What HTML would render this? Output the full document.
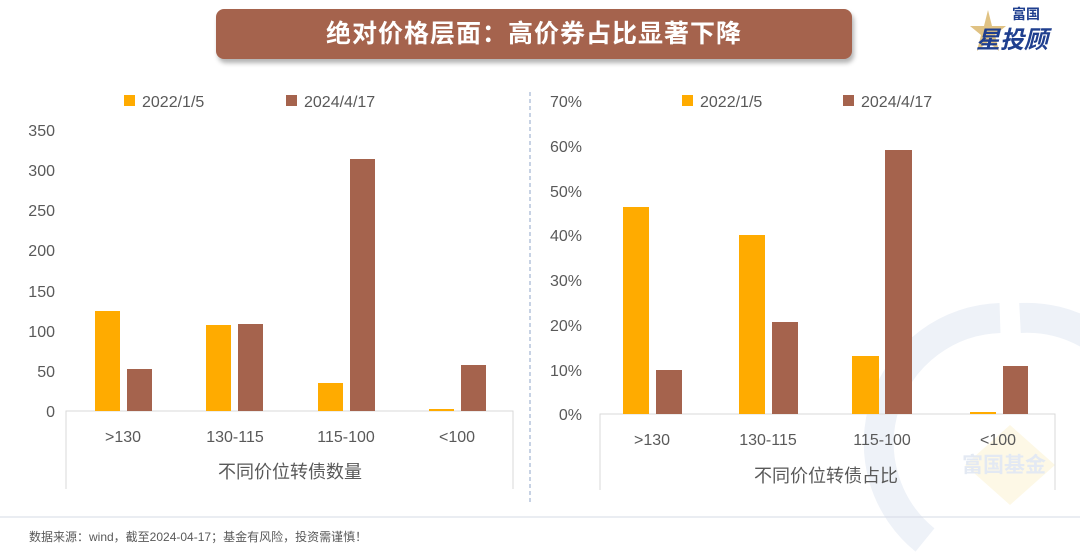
<!DOCTYPE html><html><head><meta charset="utf-8"><style>
body{margin:0;width:1080px;height:554px;background:#fff;overflow:hidden;position:relative;font-family:"Liberation Sans","Noto Sans CJK SC",sans-serif;}
.a{position:absolute}
</style></head><body>
<div class="a" style="left:216px;top:9px;width:636px;height:50px;background:#a5634d;border-radius:8px;box-shadow:2px 4px 5px rgba(0,0,0,.3);color:#fff;font-weight:bold;font-size:25px;line-height:50px;text-align:center;letter-spacing:1px">绝对价格层面：高价券占比显著下降</div>
<div class="a" style="left:966px;top:8px;width:110px;height:45px">
<svg width="110" height="45"><polygon points="22,2 26,18 40,18 29,27 33,43 22,34 11,43 15,27 4,18 18,18" fill="#e0c283"/></svg>
<div class="a" style="left:46px;top:-4px;font-size:14px;color:#1f3f8f;font-weight:bold">富国</div>
<div class="a" style="left:10px;top:12px;font-size:24px;color:#1f3f8f;font-weight:bold;font-style:italic">星投顾</div>
</div>
<svg class="a" style="left:0;top:0" width="1080" height="554" font-family="Liberation Sans, Noto Sans CJK SC, sans-serif">
<path d="M925,540 A125,125 0 0 1 1000,318" fill="none" stroke="#eef2f8" stroke-width="30"/>
<path d="M1020,318 A125,125 0 0 1 1090,335" fill="none" stroke="#eef2f8" stroke-width="30"/>
<polygon points="1010,425 1055,465 1010,505 965,465" fill="#fdf8e6"/>
<text x="962" y="472" font-size="21" fill="#e3e9f3" font-weight="bold">富国基金</text>
<line x1="530" y1="92" x2="530" y2="505" stroke="#8fa6c8" stroke-dasharray="4,3"/>
<line x1="0" y1="517" x2="1080" y2="517" stroke="#d6dbe6"/>
<g fill="#595959" font-size="16" text-anchor="end">
<text x="55" y="136">350</text><text x="55" y="176">300</text><text x="55" y="216">250</text><text x="55" y="256">200</text><text x="55" y="297">150</text><text x="55" y="337">100</text><text x="55" y="377">50</text><text x="55" y="417">0</text>
<text x="582" y="107">70%</text><text x="582" y="152">60%</text><text x="582" y="197">50%</text><text x="582" y="241">40%</text><text x="582" y="286">30%</text><text x="582" y="331">20%</text><text x="582" y="376">10%</text><text x="582" y="420">0%</text>
</g>
<g stroke="#d9d9d9" fill="none">
<path d="M66,489V411H513V489"/>
<path d="M600,490V414H1055V490"/>
</g>
<g fill="#ffab00">
<rect x="95" y="311" width="25" height="100"/><rect x="206" y="325" width="25" height="86"/><rect x="318" y="383" width="25" height="28"/><rect x="429" y="409" width="25" height="2"/>
<rect x="623" y="207" width="26" height="207"/><rect x="739" y="235" width="26" height="179"/><rect x="852" y="356" width="27" height="58"/><rect x="970" y="412" width="26" height="2"/>
</g>
<g fill="#a5634d">
<rect x="127" y="369" width="25" height="42"/><rect x="238" y="324" width="25" height="87"/><rect x="350" y="159" width="25" height="252"/><rect x="461" y="365" width="25" height="46"/>
<rect x="656" y="370" width="26" height="44"/><rect x="772" y="322" width="26" height="92"/><rect x="885" y="150" width="27" height="264"/><rect x="1003" y="366" width="25" height="48"/>
</g>
<g fill="#595959" font-size="16" text-anchor="middle">
<text x="123" y="442">&gt;130</text><text x="235" y="442">130-115</text><text x="346" y="442">115-100</text><text x="457" y="442">&lt;100</text>
<text x="652" y="445">&gt;130</text><text x="768" y="445">130-115</text><text x="882" y="445">115-100</text><text x="998" y="445">&lt;100</text>
<text x="290" y="478" font-size="18">不同价位转债数量</text><text x="826" y="482" font-size="18">不同价位转债占比</text>
</g>
<rect x="124" y="95" width="11" height="11" fill="#ffab00"/><text x="142" y="107" font-size="16" fill="#595959">2022/1/5</text>
<rect x="286" y="95" width="11" height="11" fill="#a5634d"/><text x="304" y="107" font-size="16" fill="#595959">2024/4/17</text>
<rect x="682" y="95" width="11" height="11" fill="#ffab00"/><text x="700" y="107" font-size="16" fill="#595959">2022/1/5</text>
<rect x="843" y="95" width="11" height="11" fill="#a5634d"/><text x="861" y="107" font-size="16" fill="#595959">2024/4/17</text>
<text x="29" y="541" font-size="12" fill="#595959">数据来源：wind，截至2024-04-17；基金有风险，投资需谨慎！</text>
</svg>
</body></html>
